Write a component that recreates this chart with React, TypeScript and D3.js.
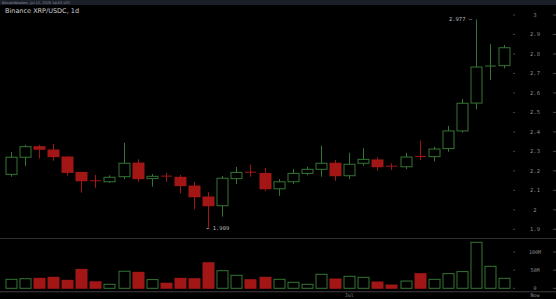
import React from "react";
import * as d3 from "d3";

const W = 556;
const H = 299;

const dates = [
  "06-07","06-08","06-09","06-10","06-11","06-12","06-13","06-14","06-15","06-16",
  "06-17","06-18","06-19","06-20","06-21","06-22","06-23","06-24","06-25","06-26",
  "06-27","06-28","06-29","06-30","07-01","07-02","07-03","07-04","07-05","07-06",
  "07-07","07-08","07-09","07-10","07-11","07-12",
];
const opens = [
  2.182,2.270,2.324,2.307,2.271,2.192,2.149,2.144,2.170,2.240,
  2.160,2.173,2.167,2.122,2.066,2.021,2.160,2.193,2.187,2.108,
  2.144,2.187,2.208,2.239,2.175,2.239,2.256,2.224,2.221,2.274,
  2.273,2.314,2.405,2.548,2.734,2.740,
];
const highs = [
  2.297,2.333,2.333,2.338,2.276,2.194,2.179,2.177,2.344,2.259,
  2.184,2.190,2.179,2.144,2.090,2.174,2.220,2.232,2.215,2.158,
  2.209,2.221,2.329,2.256,2.293,2.316,2.270,2.239,2.293,2.355,
  2.324,2.430,2.569,2.977,2.850,2.846,
];
const lows = [
  2.170,2.225,2.264,2.252,2.175,2.088,2.113,2.139,2.157,2.144,
  2.119,2.144,2.085,2.003,1.909,1.965,2.132,2.170,2.096,2.072,
  2.132,2.177,2.170,2.149,2.158,2.226,2.201,2.204,2.209,2.256,
  2.249,2.298,2.396,2.516,2.666,2.726,
];
const closes = [
  2.270,2.324,2.311,2.273,2.192,2.149,2.145,2.167,2.239,2.160,
  2.172,2.170,2.124,2.067,2.021,2.162,2.192,2.190,2.108,2.144,
  2.187,2.208,2.239,2.175,2.234,2.259,2.221,2.222,2.271,2.271,
  2.312,2.405,2.547,2.733,2.738,2.832,
];
const volumes = [
  24.8,26.4,27.5,30.3,22,52,18,11,47,44,
  24,14,27.5,26.4,70.5,48.5,35.8,23.7,30.3,24.8,
  16.5,11,38.6,25.6,33,30.3,17.4,9,20,40.4,
  24.8,40.4,46,126.7,60.6,27.5,
]; // millions

const priceTicks = [1.9, 2, 2.1, 2.2, 2.3, 2.4, 2.5, 2.6, 2.7, 2.8, 2.9, 3];
const volTicks = [0, 50, 100];
const volTickLabels = ["0", "50M", "100M"];
const timeLabels = [{ idx: 24, text: "Jul" }];

const GREEN = "#347534";
const RED = "#a31616";

export default function App() {
  const x = d3.scaleLinear().domain([0, dates.length - 1]).range([10.7, 504.3]);
  const y = d3.scaleLinear().domain([1.9, 3]).range([229.3, 15]);
  const yv = d3.scaleLinear().domain([0, 100]).range([288.3, 252]);
  const bw = 11;

  const hiIdx = d3.maxIndex(highs);
  const loIdx = d3.minIndex(lows);
  const mono = "'DejaVu Sans Mono', monospace";

  return (
    <div style={{ position: "fixed", left: 0, top: 0, width: W, height: H, background: "#000" }}>
      <svg width={W} height={H} style={{ display: "block" }}>
        <rect x={0} y={0} width={W} height={H} fill="#000" />
        <rect x={0} y={0} width={W} height={5} fill="#1b1f27" />
        <text x={2} y={3.8} fontSize={3.5} fill="#8a93a3" fontFamily="'DejaVu Sans', sans-serif">
          BitcoinWisdom, Jul 12, 2025 14:53 UTC
        </text>
        <text x={5} y={12.5} fontSize={6.5} fill="#d0d0d0" fontFamily="'DejaVu Sans', sans-serif">
          Binance XRP/USDC, 1d
        </text>

        {/* separators */}
        <line x1={0} x2={W} y1={238.5} y2={238.5} stroke="#2e2e2e" strokeWidth={1} />
        <line x1={0} x2={W} y1={291.5} y2={291.5} stroke="#2e2e2e" strokeWidth={1} />
        <line x1={0} x2={W} y1={292.5} y2={292.5} stroke="#111" strokeWidth={1} />

        {/* price axis */}
        {priceTicks.map((t) => (
          <g key={"p" + t}>
            <line x1={513} x2={515} y1={y(t)} y2={y(t)} stroke="#444" />
            <line x1={553} x2={556} y1={y(t)} y2={y(t)} stroke="#444" />
            <text x={535} y={y(t) + 2} fontSize={5.5} fill="#8a8a8a" textAnchor="middle" fontFamily={mono}>
              {d3.format("")(+t.toFixed(1))}
            </text>
          </g>
        ))}
        {volTicks.map((t, i) => (
          <g key={"v" + t}>
            <line x1={513} x2={515} y1={yv(t)} y2={yv(t)} stroke="#444" />
            <line x1={553} x2={556} y1={yv(t)} y2={yv(t)} stroke="#444" />
            <text x={535} y={yv(t) + 2} fontSize={5} fill="#8a8a8a" textAnchor="middle" fontFamily={mono}>
              {volTickLabels[i]}
            </text>
          </g>
        ))}

        {/* candles */}
        {dates.map((d, i) => {
          const o = opens[i], c = closes[i], h = highs[i], l = lows[i];
          const up = c >= o;
          const col = up ? GREEN : RED;
          const cx = Math.round(x(i)) + 0.5;
          const top = y(Math.max(o, c));
          const bot = y(Math.min(o, c));
          const bh = Math.max(bot - top, 1);
          return (
            <g key={d}>
              <line x1={cx} x2={cx} y1={y(h)} y2={y(l)} stroke={col} strokeWidth={1} />
              {bh <= 1.5 ? (
                <line x1={cx - bw / 2} x2={cx + bw / 2} y1={top} y2={top} stroke={col} strokeWidth={1} />
              ) : up ? (
                <rect x={cx - bw / 2} y={top} width={bw} height={bh} fill="#000" stroke={col} strokeWidth={1} />
              ) : (
                <rect x={cx - bw / 2 - 0.5} y={top - 0.5} width={bw + 1} height={bh + 1} fill={RED} />
              )}
            </g>
          );
        })}

        {/* volume */}
        {dates.map((d, i) => {
          const up = closes[i] >= opens[i];
          const cx = Math.round(x(i)) + 0.5;
          const top = yv(volumes[i]);
          const vh = yv(0) - top;
          return up ? (
            <rect key={"vb" + d} x={cx - bw / 2} y={top} width={bw} height={vh} fill="#000" stroke={GREEN} strokeWidth={1} />
          ) : (
            <rect key={"vb" + d} x={cx - bw / 2 - 0.5} y={top - 0.5} width={bw + 1} height={vh + 1} fill={RED} />
          );
        })}

        {/* high / low annotations */}
        <text x={x(hiIdx) - 4} y={y(highs[hiIdx]) + 2} fontSize={5.5} fill="#bbb" textAnchor="end" fontFamily={mono}>
          {highs[hiIdx].toFixed(3)} –
        </text>
        <text x={x(loIdx) - 2} y={y(lows[loIdx]) + 2} fontSize={5.5} fill="#bbb" textAnchor="start" fontFamily={mono}>
          ← {lows[loIdx].toFixed(3)}
        </text>

        {/* time axis */}
        {timeLabels.map((t) => (
          <text key={t.text} x={x(t.idx)} y={297} fontSize={5} fill="#8a8a8a" textAnchor="middle" fontFamily={mono}>
            {t.text}
          </text>
        ))}
        <text x={535} y={297} fontSize={5} fill="#8a8a8a" textAnchor="middle" fontFamily={mono}>
          Now
        </text>
      </svg>
    </div>
  );
}
